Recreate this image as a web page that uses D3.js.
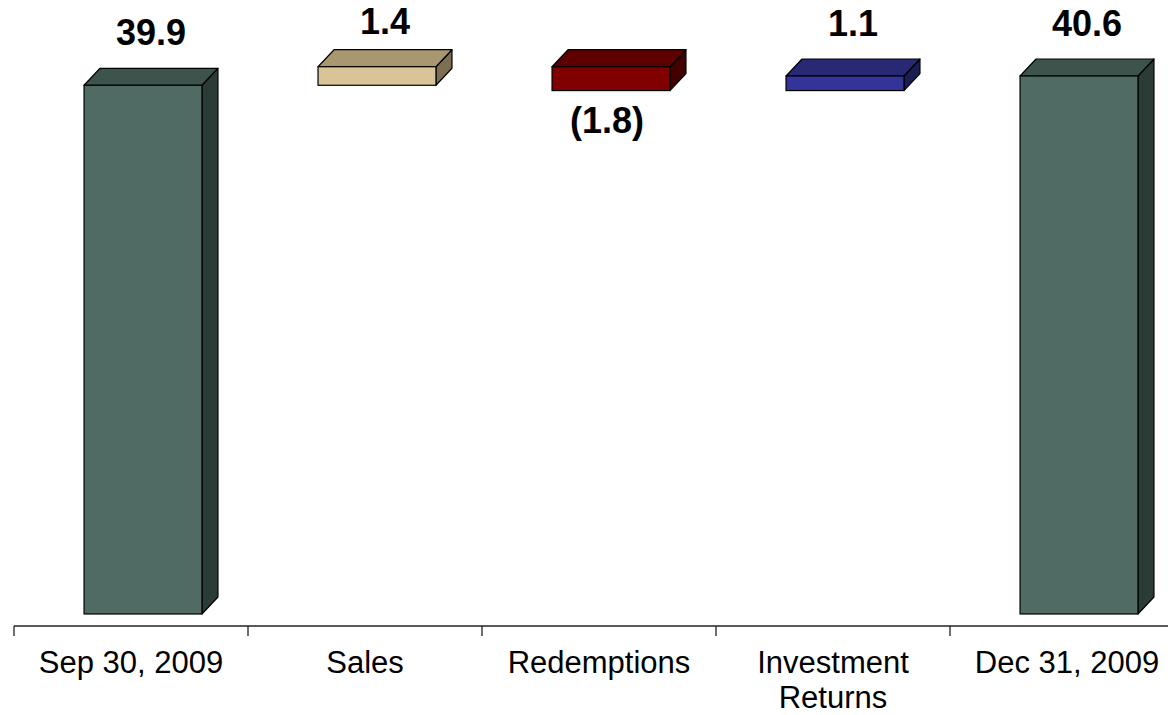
<!DOCTYPE html>
<html>
<head>
<meta charset="utf-8">
<script src="https://cdn.jsdelivr.net/npm/d3@7"></script>
<style>
  html, body { margin: 0; padding: 0; background: #fff; }
  svg { display: block; }
</style>
</head>
<body>
<svg id="chart" width="1168" height="715"></svg>
<script>
// ---- Data ----
const categories = ["Sep 30, 2009", "Sales", "Redemptions", "Investment Returns", "Dec 31, 2009"];
const values = [39.9, 1.4, -1.8, 1.1, 40.6];
const barTypes = ["total", "delta", "delta", "delta", "total"];
const valueLabels = ["39.9", "1.4", "(1.8)", "1.1", "40.6"];
const categoryLines = [["Sep 30, 2009"], ["Sales"], ["Redemptions"], ["Investment", "Returns"], ["Dec 31, 2009"]];

// ---- Styles ----
const palette = {
  total: { front: "#4F6B63", top: "#3D544D", side: "#2B3B36" },
  pos1:  { front: "#D8C496", top: "#A8976F", side: "#7C6F53" },
  neg:   { front: "#800000", top: "#5E0000", side: "#420000" },
  pos2:  { front: "#333399", top: "#282874", side: "#1D1D55" }
};
const colorKeys = ["total", "pos1", "neg", "pos2", "total"];

const svg = d3.select("#chart");
const depthX = 16, depthY = 17;

const x = d3.scaleBand().domain(categories).range([14, 1184]).paddingInner(0).paddingOuter(0);
const y = d3.scaleLinear().domain([0, 40.6]).range([614, 76]);

// compute waterfall
let running = 0;
const bars = categories.map((c, i) => {
  let start, end;
  if (barTypes[i] === "total") { start = 0; end = values[i]; running = values[i]; }
  else { start = running; end = running + values[i]; running = end; }
  return { cat: c, i, start, end, v: values[i], label: valueLabels[i], col: palette[colorKeys[i]] };
});

const barW = x.bandwidth() * 0.504;
const shift = 12;

// axis
const axisY = 626;
svg.append("line")
  .attr("x1", x.range()[0]).attr("x2", 1168)
  .attr("y1", axisY).attr("y2", axisY)
  .attr("stroke", "#222").attr("stroke-width", 1.3);
svg.selectAll(".tick").data(categories).enter().append("line")
  .attr("x1", d => x(d)).attr("x2", d => x(d))
  .attr("y1", axisY).attr("y2", axisY + 10)
  .attr("stroke", "#222").attr("stroke-width", 1.3);

// bars
const g = svg.append("g");
bars.forEach(b => {
  const x0 = x(b.cat) + x.bandwidth() / 2 - barW / 2 + shift;
  const x1 = x0 + barW;
  const yTop = y(Math.max(b.start, b.end));
  const yBot = y(Math.min(b.start, b.end));
  const pts = a => a.map(p => p.join(",")).join(" ");
  // side
  g.append("polygon")
    .attr("points", pts([[x1, yTop], [x1 + depthX, yTop - depthY], [x1 + depthX, yBot - depthY], [x1, yBot]]))
    .attr("fill", b.col.side).attr("stroke", "#000").attr("stroke-width", 1.2).attr("stroke-linejoin", "round");
  // top
  g.append("polygon")
    .attr("points", pts([[x0, yTop], [x0 + depthX, yTop - depthY], [x1 + depthX, yTop - depthY], [x1, yTop]]))
    .attr("fill", b.col.top).attr("stroke", "#000").attr("stroke-width", 1.2).attr("stroke-linejoin", "round");
  // front
  g.append("rect")
    .attr("x", x0).attr("y", yTop).attr("width", barW).attr("height", yBot - yTop)
    .attr("fill", b.col.front).attr("stroke", "#000").attr("stroke-width", 1.2);

  // value labels
  const t = svg.append("text")
    .attr("font-family", "Liberation Sans, Arial, sans-serif")
    .attr("font-weight", "bold").attr("font-size", 36)
    .attr("text-anchor", "middle").attr("fill", "#000")
    .text(b.label);
  if (b.v >= 0) {
    // placed above the bar, clamped inside the chart area
    t.attr("x", (x0 + x1 + depthX) / 2).attr("y", Math.max(yTop - 40, 34));
  } else {
    t.attr("x", (x0 + x1) / 2 - 4).attr("y", yBot + 42);
  }
});

// category labels
categories.forEach((c, i) => {
  const t = svg.append("text")
    .attr("font-family", "Liberation Sans, Arial, sans-serif")
    .attr("font-size", 31)
    .attr("text-anchor", "middle").attr("fill", "#000")
    .attr("x", x(c) + x.bandwidth() / 2).attr("y", 673);
  categoryLines[i].forEach((line, j) => {
    t.append("tspan").attr("x", x(c) + x.bandwidth() / 2).attr("dy", j === 0 ? 0 : 35).text(line);
  });
});
</script>
</body>
</html>
